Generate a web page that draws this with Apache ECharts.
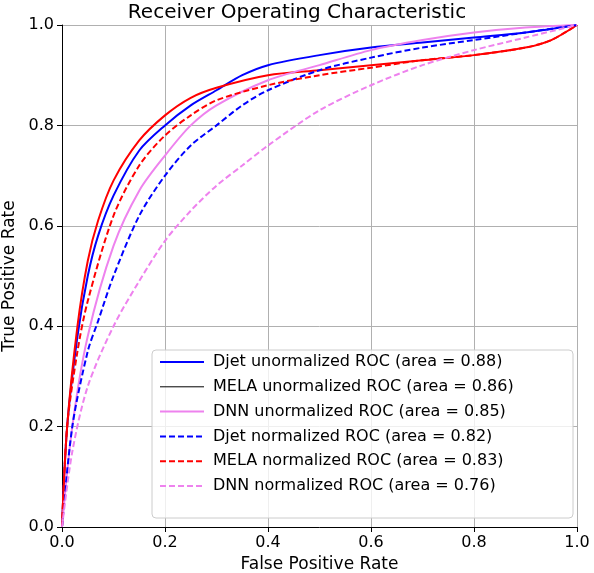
<!DOCTYPE html>
<html><head><meta charset="utf-8">
<script src="https://cdn.jsdelivr.net/npm/echarts@6/dist/echarts.min.js"></script>
<style>html,body{margin:0;padding:0;background:#fff}#c{width:594px;height:573px}</style>
</head><body><div id="c"></div>
<script>
// ROC curves, [fpr, tpr]
const djetRaw = [[0,0],[0.01,0.2],[0.03,0.38],[0.05,0.5],[0.07,0.58],[0.1,0.66],[0.15,0.75],[0.2,0.8],[0.25,0.84],[0.3,0.87],[0.35,0.9],[0.4,0.92],[0.5,0.94],[0.6,0.955],[0.7,0.965],[0.8,0.975],[0.9,0.985],[1,1]];
const melaRaw = [[0,0],[0.01,0.2],[0.03,0.4],[0.05,0.53],[0.07,0.61],[0.1,0.69],[0.15,0.77],[0.2,0.82],[0.25,0.855],[0.3,0.875],[0.4,0.9],[0.5,0.91],[0.6,0.92],[0.7,0.93],[0.8,0.94],[0.9,0.955],[0.95,0.97],[1,1]];
const dnnRaw = [[0,0],[0.02,0.2],[0.05,0.38],[0.1,0.56],[0.15,0.67],[0.2,0.74],[0.25,0.8],[0.3,0.84],[0.4,0.89],[0.5,0.92],[0.6,0.95],[0.7,0.97],[0.8,0.985],[0.9,0.995],[1,1]];
const djetNorm = [[0,0],[0.02,0.2],[0.05,0.35],[0.07,0.41],[0.1,0.5],[0.15,0.62],[0.2,0.7],[0.25,0.76],[0.3,0.8],[0.35,0.84],[0.4,0.87],[0.5,0.91],[0.6,0.935],[0.7,0.955],[0.8,0.97],[0.9,0.985],[1,1]];
const melaNorm = [[0,0],[0.01,0.2],[0.03,0.35],[0.05,0.45],[0.1,0.62],[0.15,0.72],[0.2,0.78],[0.25,0.82],[0.3,0.85],[0.4,0.88],[0.5,0.9],[0.6,0.915],[0.7,0.93],[0.8,0.94],[0.9,0.955],[0.95,0.97],[1,1]];
const dnnNorm = [[0,0],[0.02,0.15],[0.05,0.28],[0.1,0.4],[0.15,0.49],[0.2,0.57],[0.25,0.63],[0.3,0.68],[0.35,0.72],[0.4,0.76],[0.5,0.83],[0.6,0.88],[0.7,0.92],[0.8,0.95],[0.9,0.975],[1,1]];
const names = ['Djet unormalized ROC (area = 0.88)','MELA unormalized ROC (area = 0.86)','DNN unormalized ROC (area = 0.85)','Djet normalized ROC (area = 0.82)','MELA normalized ROC (area = 0.83)','DNN normalized ROC (area = 0.76)'];
const curves = [djetRaw, melaRaw, dnnRaw, djetNorm, melaNorm, dnnNorm];
const colors = ['#0000ff','#ff0000','#ee82ee','#0000ff','#ff0000','#ee82ee'];
const dashed = [false,false,false,true,true,true];

const chart = echarts.init(document.getElementById('c'));
const font = 'DejaVu Sans';
const axisCommon = {
  type:'value', min:0, max:1, interval:0.2,
  axisLine:{lineStyle:{color:'#000'}},
  axisTick:{show:true, length:5, lineStyle:{color:'#000'}},
  axisLabel:{color:'#000', fontSize:16, fontFamily:font, formatter:v=>v.toFixed(1)},
  splitLine:{lineStyle:{color:'#b0b0b0'}},
  nameLocation:'middle', nameTextStyle:{color:'#000', fontSize:17, fontFamily:font}
};

// legend box drawn as graphic
const legendItems = [{type:'rect', shape:{x:152, y:350, width:421, height:168, r:4}, style:{fill:'rgba(255,255,255,0.8)', stroke:'#ccc', lineWidth:1}, z:100}];
names.forEach((n,i)=>{
  const y = 362 + i*24.8;
  legendItems.push({type:'line', shape:{x1:160, y1:y, x2:204, y2:y}, z:101,
    style:i===1 ? {stroke:'#000', lineWidth:1} : {stroke:colors[i], lineWidth:2, lineDash:dashed[i]?[6,3]:null}});
  legendItems.push({type:'text', x:213, y:y, z:101, style:{text:n, fill:'#000', font:'16px "DejaVu Sans"', textVerticalAlign:'middle'}});
});

chart.setOption({
  animation:false,
  title:{text:'Receiver Operating Characteristic', left:'center', top:-2, textStyle:{fontSize:20, fontWeight:'normal', color:'#000', fontFamily:font}},
  grid:{left:62, right:17, top:25, bottom:46, outerBoundsMode:'none', containLabel:false},
  xAxis:Object.assign({}, axisCommon, {name:'False Positive Rate', nameGap:28}),
  yAxis:Object.assign({}, axisCommon, {name:'True Positive Rate', nameGap:42}),
  graphic:legendItems,
  series:curves.map((d,i)=>({
    name:names[i], type:'line', data:d, smooth:0.3, showSymbol:false, symbol:'none',
    lineStyle:{color:colors[i], width:2, type:dashed[i]?[6,3]:'solid'},
    itemStyle:{color:colors[i]}
  }))
});
</script></body></html>
